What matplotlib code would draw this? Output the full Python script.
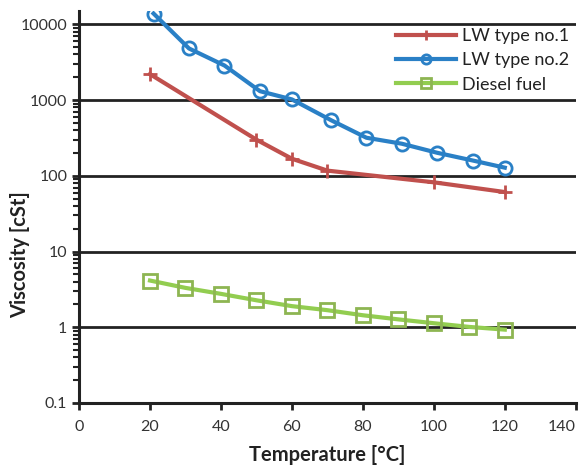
import matplotlib
matplotlib.use("Agg")
import matplotlib.pyplot as plt
from matplotlib.ticker import LogLocator, FixedLocator, NullFormatter

lw1_x = [20, 50, 60, 70, 100, 120]
lw1_y = [2200, 300, 168, 117, 82, 61]
lw2_x = [21, 31, 41, 51, 60, 71, 81, 91, 101, 111, 120]
lw2_y = [13900, 4800, 2860, 1310, 1020, 543, 318, 265, 201, 159, 128]
df_x = [20, 30, 40, 50, 60, 70, 80, 90, 100, 110, 120]
df_y = [4.14, 3.31, 2.76, 2.27, 1.90, 1.68, 1.44, 1.27, 1.13, 1.01, 0.93]

x_ticks = [0, 20, 40, 60, 80, 100, 120, 140]
y_ticks = [0.1, 1, 10, 100, 1000, 10000]
y_ticklabels = ["0.1", "1", "10", "100", "1000", "10000"]

plt.rcParams['font.family'] = ['Lato', 'DejaVu Sans']

fig = plt.figure(figsize=(5.81, 4.70), dpi=100)
ax = fig.add_axes([0.136, 0.1426, 0.855, 0.834])

red = '#C0504D'
blue = '#2A80C6'
green_line = '#92CD50'
green_mark = '#8DB552'

ax.plot(lw1_x, lw1_y, color=red, lw=3, marker='+', ms=10, mew=2, label='LW type no.1', zorder=3)
ax.plot(lw2_x, lw2_y, color=blue, lw=3, marker='o', ms=9.5, mew=2, mfc='none', label='LW type no.2', zorder=3)
ax.plot(df_x, df_y, color=green_line, lw=3, marker='s', ms=10, mew=2, mfc='none', mec=green_mark,
        label='Diesel fuel', zorder=3)

ax.set_yscale('log')
ax.set_xlim(0, 140)
ax.set_ylim(0.1, 15000)
ax.set_xticks(x_ticks)
ax.set_xticklabels([str(t) for t in x_ticks], fontsize=11.5, color='#333333')
ax.get_xticklabels()[-1].set_horizontalalignment('right')
ax.yaxis.set_major_locator(FixedLocator(y_ticks))
ax.set_yticklabels(y_ticklabels, fontsize=11.5, color='#333333')
ax.yaxis.set_minor_locator(LogLocator(base=10, subs=range(2, 10), numticks=20))
ax.yaxis.set_minor_formatter(NullFormatter())

ax.grid(True, which='major', axis='y', color='#222222', lw=2)
ax.set_axisbelow(True)
for s in ['top', 'right']:
    ax.spines[s].set_visible(False)
for s in ['left', 'bottom']:
    ax.spines[s].set_linewidth(2.2)
    ax.spines[s].set_color('#222222')
ax.tick_params(axis='y', which='major', direction='out', length=5, width=2, color='#222222')
ax.tick_params(axis='y', which='minor', direction='out', length=4, width=1.5, color='#222222')
ax.tick_params(axis='x', which='major', direction='out', length=5, width=2, color='#222222', pad=7)

ax.set_xlabel('Temperature [°C]', fontsize=14.5, fontweight='bold', color='#222222', labelpad=8)
fig.text(20 / 581, 1 - 255 / 470, 'Viscosity [cSt]', rotation=90, ha='center', va='center',
         fontsize=14.5, fontweight='bold', color='#222222')

leg = ax.legend(loc='upper right', bbox_to_anchor=(1.0, 0.972), frameon=True, fontsize=13,
                handlelength=3.3, borderaxespad=0.2, borderpad=0.15, labelspacing=0.45, handletextpad=0.35,
                fancybox=False, edgecolor='none', framealpha=1, markerscale=0.7)
leg.set_zorder(2)
for t in leg.get_texts():
    t.set_color('#222222')

fig.savefig('out.png', dpi=100)
